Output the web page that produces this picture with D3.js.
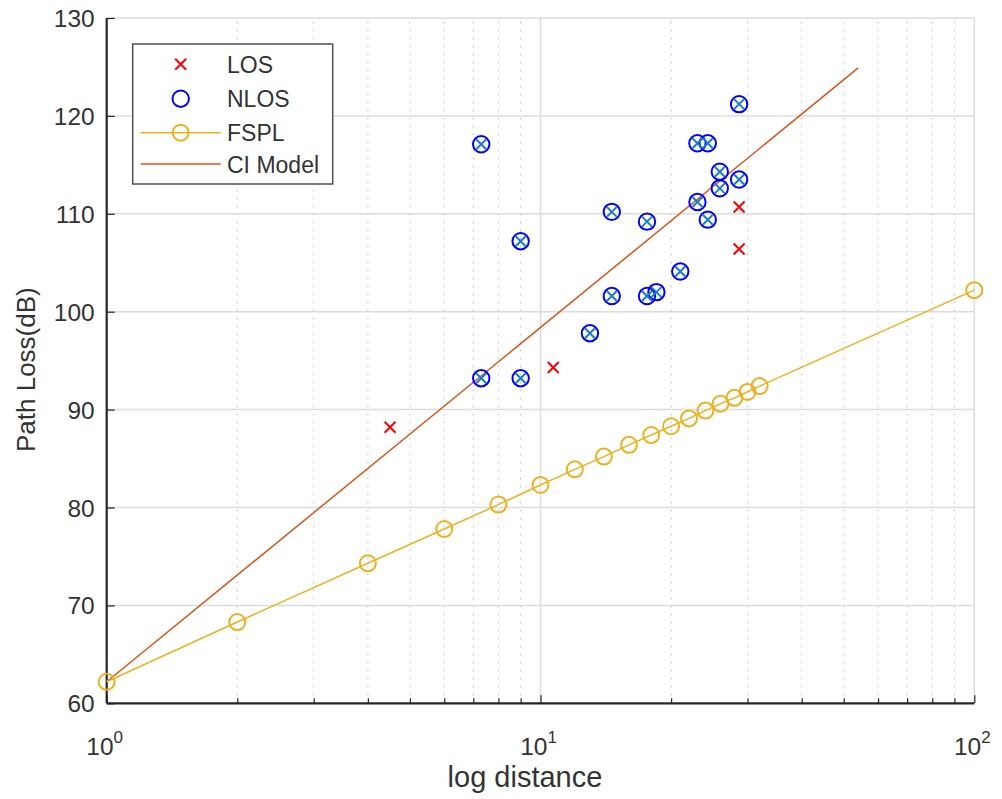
<!DOCTYPE html>
<html>
<head>
<meta charset="utf-8">
<script src="https://cdn.jsdelivr.net/npm/d3@7"></script>
<style>
  html, body { margin: 0; padding: 0; background: #fff; }
  svg { display: block; font-family: "Liberation Sans", Arial, Helvetica, sans-serif; }
</style>
</head>
<body>
<svg id="chart" width="1002" height="799"></svg>
<script>
// Measured path loss (dB) against distance (m)
const losDist = [4.5, 10.7, 28.7, 28.7];
const losLoss = [88.2, 94.3, 110.7, 106.4];

const nlosDist = [7.3, 7.3, 9.0, 9.0, 13.0, 14.6, 14.6, 17.6, 17.6, 18.5, 21.0,
                  23.0, 24.3, 23.0, 25.9, 25.9, 24.3, 28.7, 28.7];
const nlosLoss = [117.1, 93.2, 107.2, 93.2, 97.8, 110.2, 101.6, 109.2, 101.6, 102.0, 104.1,
                  117.2, 117.2, 111.2, 114.3, 112.6, 109.4, 121.2, 113.5];

// Free-space reference
const fsplDist = [1, 2, 4, 6, 8, 10, 12, 14, 16, 18, 20, 22, 24, 26, 28, 30, 32, 100];
const fsplLoss = [62.2, 68.3, 74.3, 77.8, 80.3, 82.3, 83.9, 85.2, 86.4, 87.4, 88.3,
                  89.1, 89.9, 90.6, 91.2, 91.8, 92.4, 102.2];

// Close-in model fit line
const ciDist = [1, 54];
const ciLoss = [62.2, 124.9];

const yTicks = [60, 70, 80, 90, 100, 110, 120, 130];
const xTicks = [1, 10, 100];
const xTickExp = ["0", "1", "2"];
const legendLabels = ["LOS", "NLOS", "FSPL", "CI Model"];

const svg = d3.select("#chart");
const pLeft = 106.7, pRight = 974.3, pTop = 18, pBottom = 703.3;

const x = d3.scaleLog().domain([1, 100]).range([pLeft, pRight]);
const y = d3.scaleLinear().domain([60, 130]).range([pBottom, pTop]);

const axisColor = "#262626";
const textColor = "#333333";

// minor x positions (2..9, 20..90)
const minorX = [];
for (let dec = 1; dec < 100; dec *= 10) {
  for (let k = 2; k <= 9; k++) minorX.push(k * dec);
}

// grid
const grid = svg.append("g");
grid.selectAll("line.minor").data(minorX).enter().append("line")
  .attr("x1", d => x(d)).attr("x2", d => x(d))
  .attr("y1", pBottom).attr("y2", pTop)
  .attr("stroke", "#c4c4c4").attr("stroke-width", 1.3)
  .attr("stroke-dasharray", "1.6,6.4");
grid.selectAll("line.ymaj").data(yTicks.filter(v => v > 60)).enter().append("line")
  .attr("x1", pLeft).attr("x2", pRight)
  .attr("y1", d => y(d)).attr("y2", d => y(d))
  .attr("stroke", "#dcdcdc").attr("stroke-width", 1.5);
grid.selectAll("line.xmaj").data(xTicks.filter(v => v > 1)).enter().append("line")
  .attr("x1", d => x(d)).attr("x2", d => x(d))
  .attr("y1", pBottom).attr("y2", pTop)
  .attr("stroke", "#dcdcdc").attr("stroke-width", 1.5);

// axes
const xAxis = d3.axisBottom(x).tickValues(xTicks).tickSize(-8).tickFormat("");
const gx = svg.append("g").attr("transform", `translate(0,${pBottom})`).call(xAxis);
const xMinorAxis = d3.axisBottom(x).tickValues(minorX).tickSize(-5).tickFormat("");
const gxm = svg.append("g").attr("transform", `translate(0,${pBottom})`).call(xMinorAxis);
gxm.select(".domain").remove();
[gx, gxm].forEach(g => {
  g.select(".domain").attr("stroke", axisColor).attr("stroke-width", 2.2);
  g.selectAll(".tick line").attr("stroke", axisColor).attr("stroke-width", 1.2);
});
gx.select(".domain").attr("d", `M${pLeft},0H${pRight}`);

const yAxis = d3.axisLeft(y).tickValues(yTicks).tickSize(-8).tickFormat("");
const gy = svg.append("g").attr("transform", `translate(${pLeft},0)`).call(yAxis);
gy.select(".domain").attr("stroke", axisColor).attr("stroke-width", 2.2)
  .attr("d", `M0,${pTop}V${pBottom}`);
gy.selectAll(".tick line").attr("stroke", axisColor).attr("stroke-width", 1.2);

// y tick labels
svg.append("g").selectAll("text").data(yTicks).enter().append("text")
  .attr("x", pLeft - 12).attr("y", d => y(d) + 9)
  .attr("text-anchor", "end")
  .attr("font-size", 24.5).attr("fill", textColor)
  .text(d => d);

// x tick labels with exponents
const xl = svg.append("g").selectAll("text").data(xTicks).enter().append("text")
  .attr("x", d => x(d) - 2).attr("y", 755)
  .attr("text-anchor", "middle")
  .attr("font-size", 24.5).attr("fill", textColor);
xl.append("tspan").text("10");
xl.append("tspan").attr("dy", -12).attr("font-size", 17).text((d, i) => xTickExp[i]);

// axis titles
svg.append("text").attr("x", 525).attr("y", 787)
  .attr("text-anchor", "middle").attr("font-size", 29).attr("fill", textColor)
  .text("log distance");
svg.append("text")
  .attr("transform", `translate(35,${(pTop + pBottom) / 2 + 9}) rotate(-90)`)
  .attr("text-anchor", "middle").attr("font-size", 26).attr("fill", textColor)
  .text("Path Loss(dB)");

// CI model line
const line = d3.line().x(d => x(d[0])).y(d => y(d[1]));
svg.append("path")
  .datum(ciDist.map((d, i) => [d, ciLoss[i]]))
  .attr("d", line).attr("fill", "none")
  .attr("stroke", "#D95319").attr("stroke-width", 1.5);

// FSPL line and markers
const fspl = fsplDist.map((d, i) => [d, fsplLoss[i]]);
svg.append("path").datum(fspl).attr("d", line).attr("fill", "none")
  .attr("stroke", "#EDB120").attr("stroke-width", 1.5);
svg.append("g").selectAll("circle").data(fspl).enter().append("circle")
  .attr("cx", d => x(d[0])).attr("cy", d => y(d[1])).attr("r", 8)
  .attr("fill", "none").attr("stroke", "#EDB120").attr("stroke-width", 2);

// cross marker path
function crossPath(cx, cy, s) {
  return `M${cx - s},${cy - s}L${cx + s},${cy + s}M${cx - s},${cy + s}L${cx + s},${cy - s}`;
}

// NLOS points: circle with inner cross
const nlos = nlosDist.map((d, i) => [d, nlosLoss[i]]);
const gn = svg.append("g");
gn.selectAll("circle").data(nlos).enter().append("circle")
  .attr("cx", d => x(d[0])).attr("cy", d => y(d[1])).attr("r", 8.2)
  .attr("fill", "none").attr("stroke", "#0000ff").attr("stroke-width", 2);
gn.selectAll("path").data(nlos).enter().append("path")
  .attr("d", d => crossPath(x(d[0]), y(d[1]), 5))
  .attr("stroke", "#1a7bc6").attr("stroke-width", 2).attr("fill", "none");

// LOS points
svg.append("g").selectAll("path").data(losDist.map((d, i) => [d, losLoss[i]])).enter()
  .append("path")
  .attr("d", d => crossPath(x(d[0]), y(d[1]), 5.5))
  .attr("stroke", "#ff0000").attr("stroke-width", 2).attr("fill", "none");

// legend
const lg = svg.append("g");
lg.append("rect").attr("x", 132.7).attr("y", 44).attr("width", 200).attr("height", 140)
  .attr("fill", "#fff").attr("stroke", "#505050").attr("stroke-width", 1.5);
const rowY = [64.3, 98.7, 132.7, 164];
lg.selectAll("text").data(legendLabels).enter().append("text")
  .attr("x", 227).attr("y", (d, i) => rowY[i] + 8.5)
  .attr("font-size", 23).attr("fill", textColor).text(d => d);
const mx = 180.7;
lg.append("path").attr("d", crossPath(mx, rowY[0], 5.5))
  .attr("stroke", "#ff0000").attr("stroke-width", 2);
lg.append("circle").attr("cx", mx).attr("cy", rowY[1]).attr("r", 8.2)
  .attr("fill", "none").attr("stroke", "#0000ff").attr("stroke-width", 2);
lg.append("line").attr("x1", 140.7).attr("x2", 220.7).attr("y1", rowY[2]).attr("y2", rowY[2])
  .attr("stroke", "#EDB120").attr("stroke-width", 1.5);
lg.append("circle").attr("cx", mx).attr("cy", rowY[2]).attr("r", 8)
  .attr("fill", "none").attr("stroke", "#EDB120").attr("stroke-width", 2);
lg.append("line").attr("x1", 140.7).attr("x2", 220.7).attr("y1", rowY[3]).attr("y2", rowY[3])
  .attr("stroke", "#D95319").attr("stroke-width", 1.5);
</script>
</body>
</html>
